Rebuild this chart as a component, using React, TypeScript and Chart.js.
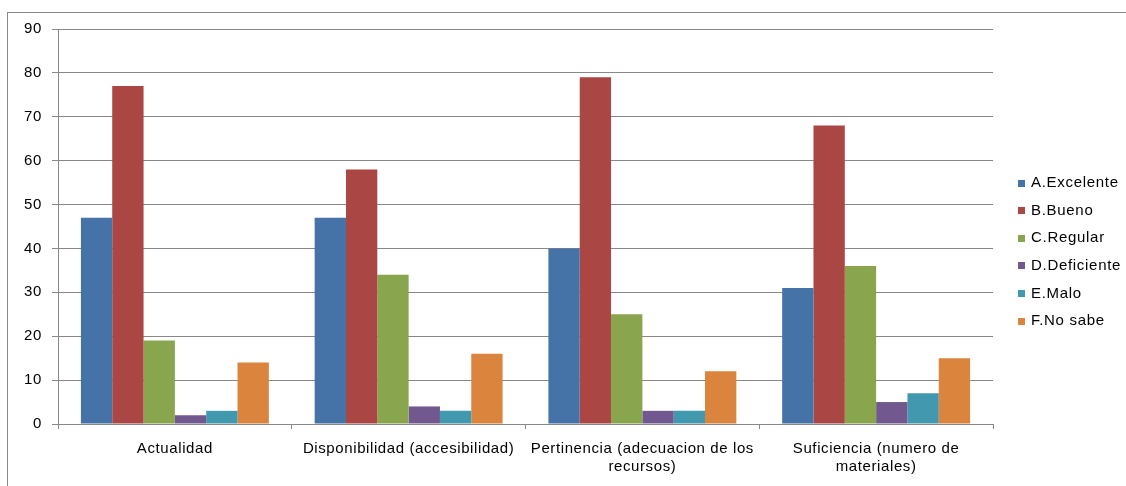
import React, { useEffect, useRef } from "react";
import { Chart, registerables } from "chart.js";

Chart.register(...registerables);

const categories: string[][] = [
  ["Actualidad"],
  ["Disponibilidad (accesibilidad)"],
  ["Pertinencia (adecuacion de los", "recursos)"],
  ["Suficiencia (numero de", "materiales)"],
];
const seriesNames = ["A.Excelente", "B.Bueno", "C.Regular", "D.Deficiente", "E.Malo", "F.No sabe"];
const excelente = [47, 47, 40, 31];
const bueno = [77, 58, 79, 68];
const regular = [19, 34, 25, 36];
const deficiente = [2, 4, 3, 5];
const malo = [3, 3, 3, 7];
const noSabe = [14, 16, 12, 15];
const seriesColors = ["#4572A7", "#AA4643", "#89A54E", "#71588F", "#4198AF", "#DB843D"];
const yMin = 0;
const yMax = 90;
const yStep = 10;

const FONT = "'Liberation Sans', Arial, sans-serif";
const GRID = "#888888";

const spacing = {
  id: "spacing",
  beforeDraw(chart: any) {
    (chart.ctx as any).letterSpacing = "0.6px";
  },
};

const sideLegend = {
  id: "sideLegend",
  afterDraw(chart: any) {
    const ctx = chart.ctx as CanvasRenderingContext2D;
    ctx.save();
    (ctx as any).letterSpacing = "0.7px";
    ctx.font = `15px ${FONT}`;
    ctx.textBaseline = "middle";
    ctx.textAlign = "left";
    chart.data.datasets.forEach((ds: any, i: number) => {
      const y = 183 + i * 27.65;
      ctx.fillStyle = ds.backgroundColor;
      ctx.fillRect(1018, Math.round(y - 3.5), 7, 7);
      ctx.fillStyle = "#000000";
      ctx.fillText(ds.label, 1031, y);
    });
    ctx.restore();
  },
};

export default function App() {
  const canvasRef = useRef<HTMLCanvasElement | null>(null);

  useEffect(() => {
    if (!canvasRef.current) return;
    const values = [excelente, bueno, regular, deficiente, malo, noSabe];
    const chart = new Chart(canvasRef.current, {
      type: "bar",
      data: {
        labels: categories,
        datasets: values.map((v, i) => ({
          label: seriesNames[i],
          data: v,
          backgroundColor: seriesColors[i],
          borderWidth: 0,
          categoryPercentage: 0.804,
          barPercentage: 1,
        })),
      },
      options: {
        responsive: false,
        animation: false,
        devicePixelRatio: 1,
        layout: { padding: { top: 29, right: 133, bottom: 0, left: 0 } },
        plugins: {
          legend: { display: false },
          tooltip: { enabled: false },
          title: { display: false },
        },
        scales: {
          x: {
            grid: {
              display: true,
              drawOnChartArea: false,
              drawTicks: true,
              tickLength: 5,
              color: GRID,
              offset: true,
            },
            border: { color: GRID, width: 1 },
            ticks: {
              color: "#000000",
              font: { family: FONT, size: 15, lineHeight: 1.2 },
              padding: 11,
              maxRotation: 0,
              autoSkip: false,
            },
            afterFit(scale: any) {
              scale.height = 62;
            },
          },
          y: {
            min: yMin,
            max: yMax,
            ticks: {
              stepSize: yStep,
              color: "#000000",
              font: { family: FONT, size: 15 },
              padding: 10,
            },
            grid: {
              color: GRID,
              drawTicks: true,
              tickLength: 6,
            },
            border: { color: GRID, width: 1 },
            afterFit(scale: any) {
              scale.width = 58;
            },
          },
        },
      },
      plugins: [spacing, sideLegend],
    });
    return () => chart.destroy();
  }, []);

  return (
    <div
      style={{
        position: "fixed",
        left: 0,
        top: 0,
        width: 1126,
        height: 486,
        overflow: "hidden",
        background: "#ffffff",
      }}
    >
      <div
        style={{
          position: "absolute",
          left: 7,
          top: 12,
          width: 1200,
          height: 600,
          border: "1px solid #8a8a8a",
        }}
      />
      <canvas
        ref={canvasRef}
        width={1126}
        height={486}
        style={{ position: "absolute", left: 0, top: 0, width: 1126, height: 486 }}
      />
    </div>
  );
}
